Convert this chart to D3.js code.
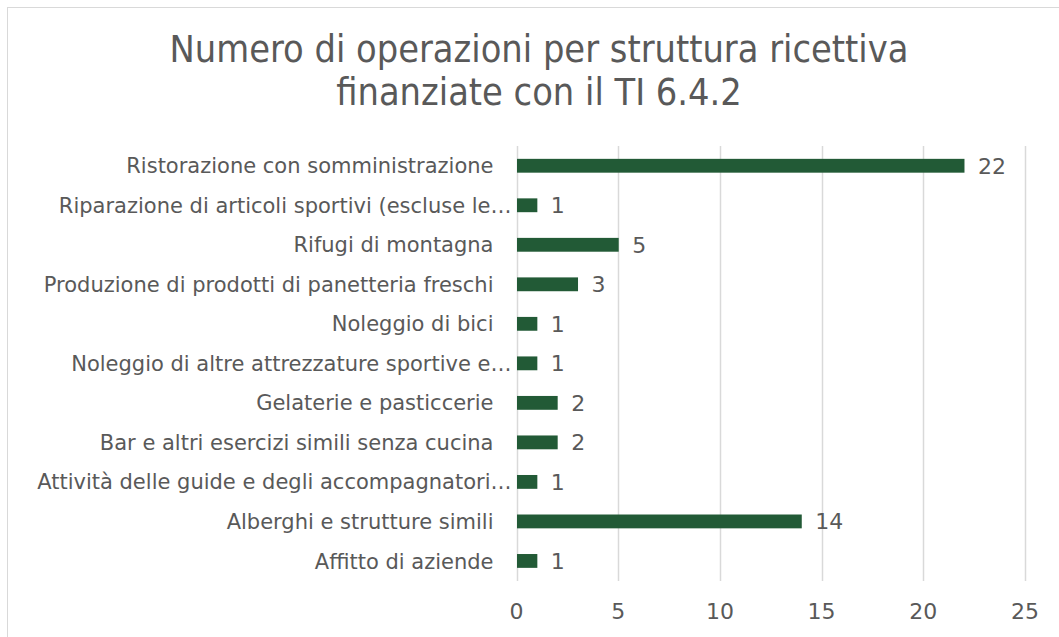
<!DOCTYPE html>
<html>
<head>
<meta charset="utf-8">
<script src="https://cdn.jsdelivr.net/npm/d3@7"></script>
<style>
  html, body { margin: 0; padding: 0; background: #fff; }
  svg { display: block; }
</style>
</head>
<body>
<svg id="chart"></svg>
<script>
// Categories top to bottom, as in the reference
const categories = [
  'Ristorazione con somministrazione',
  'Riparazione di articoli sportivi (escluse le…',
  'Rifugi di montagna',
  'Produzione di prodotti di panetteria freschi',
  'Noleggio di bici',
  'Noleggio di altre attrezzature sportive e…',
  'Gelaterie e pasticcerie',
  'Bar e altri esercizi simili senza cucina',
  'Attività delle guide e degli accompagnatori…',
  'Alberghi e strutture simili',
  'Affitto di aziende'
]
const values = [22, 1, 5, 3, 1, 1, 2, 2, 1, 14, 1]
const xTicks = [0, 5, 10, 15, 20, 25]
const titleLines = ['Numero di operazioni per struttura ricettiva', 'finanziate con il TI 6.4.2']

const width = 1059
const height = 637
const textColor = '#595959'
const gridColor = '#d9d9d9'
const barColor = '#225a36'

const svg = d3.select('#chart')
  .attr('width', width)
  .attr('height', height)

// chart border (right/bottom edges fall outside the picture)
svg.append('rect')
  .attr('x', 7.5)
  .attr('y', 7.5)
  .attr('width', width + 10)
  .attr('height', height + 10)
  .attr('fill', '#fff')
  .attr('stroke', gridColor)
  .attr('stroke-width', 1)

// Title
const title = svg.append('text')
  .attr('text-anchor', 'middle')
  .attr('fill', textColor)
  .attr('font-family', '"DejaVu Sans Condensed", "DejaVu Sans", sans-serif')
  .attr('font-size', 36)

title.selectAll('tspan')
  .data(titleLines)
  .enter().append('tspan')
  .attr('x', 539)
  .attr('y', (d, i) => 62 + i * 43)
  .text(d => d)

// fit first line to the reference width
const firstLine = title.select('tspan').node()
const w0 = firstLine.getComputedTextLength()
title.attr('font-size', 36 * 739 / w0)

const x = d3.scaleLinear()
  .domain([0, 25])
  .range([516.5, 1025])

const y = d3.scaleBand()
  .domain(categories)
  .range([146, 580.7])
  .paddingInner(0.65)
  .paddingOuter(0.325)

// Gridlines
svg.append('g')
  .selectAll('line')
  .data(xTicks)
  .enter().append('line')
  .attr('x1', d => Math.round(x(d)) + 0.5)
  .attr('x2', d => Math.round(x(d)) + 0.5)
  .attr('y1', 146)
  .attr('y2', 581)
  .attr('stroke', gridColor)
  .attr('stroke-width', 1.5)

// Bars
svg.append('g')
  .selectAll('rect')
  .data(values)
  .enter().append('rect')
  .attr('x', x(0) + 0.5)
  .attr('y', (d, i) => y(categories[i]))
  .attr('width', d => x(d) - x(0))
  .attr('height', y.bandwidth())
  .attr('fill', barColor)

// Value labels
svg.append('g')
  .selectAll('text')
  .data(values)
  .enter().append('text')
  .attr('x', d => x(d) + 14)
  .attr('y', (d, i) => y(categories[i]) + y.bandwidth() / 2)
  .attr('dy', '0.36em')
  .attr('font-family', '"DejaVu Sans", sans-serif')
  .attr('font-size', 22)
  .attr('fill', textColor)
  .text(d => d)

// Category labels
svg.append('g')
  .selectAll('text')
  .data(categories)
  .enter().append('text')
  .attr('x', d => d.endsWith('…') ? x(0) - 5 : x(0) - 23)
  .attr('y', d => y(d) + y.bandwidth() / 2)
  .attr('dy', '0.36em')
  .attr('text-anchor', 'end')
  .attr('font-family', '"DejaVu Sans", sans-serif')
  .attr('font-size', 21)
  .attr('fill', textColor)
  .text(d => d)

// X axis tick labels
svg.append('g')
  .selectAll('text')
  .data(xTicks)
  .enter().append('text')
  .attr('x', d => x(d))
  .attr('y', 619)
  .attr('text-anchor', 'middle')
  .attr('font-family', '"DejaVu Sans", sans-serif')
  .attr('font-size', 22)
  .attr('fill', textColor)
  .text(d => d)
</script>
</body>
</html>
